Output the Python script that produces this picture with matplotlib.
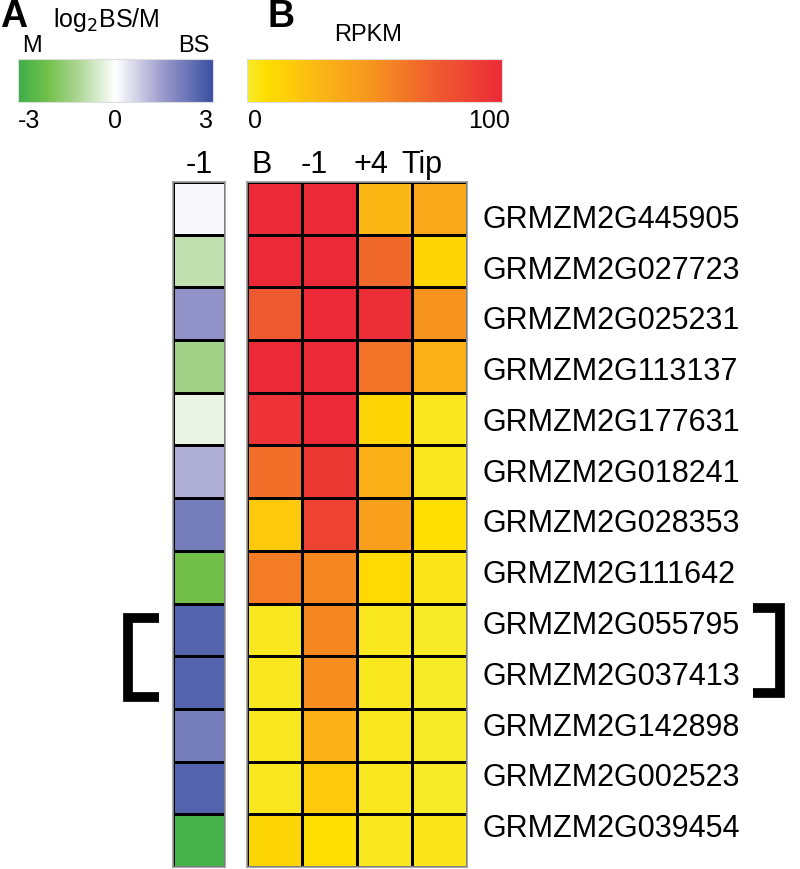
import numpy as np
import matplotlib
matplotlib.use("Agg")
import matplotlib.pyplot as plt
from matplotlib.colors import LinearSegmentedColormap, Normalize
from matplotlib.cm import ScalarMappable
from matplotlib.lines import Line2D

plt.rcParams['font.family'] = ['Liberation Sans', 'DejaVu Sans']

genes = ["GRMZM2G445905", "GRMZM2G027723", "GRMZM2G025231", "GRMZM2G113137",
         "GRMZM2G177631", "GRMZM2G018241", "GRMZM2G028353", "GRMZM2G111642",
         "GRMZM2G055795", "GRMZM2G037413", "GRMZM2G142898", "GRMZM2G002523",
         "GRMZM2G039454"]
ratio_labels = ["-1"]
rpkm_labels = ["B", "-1", "+4", "Tip"]

# log2 BS/M at section -1
log2_bs_m = [0.1, -0.85, 1.6, -1.3, -0.3, 1.15, 2.05, -2.1, 2.6, 2.6, 2.05, 2.6, -2.85]

# RPKM for B, -1, +4, Tip
rpkm_b = [100, 100, 75, 100, 95, 66, 18, 60, 2, 2, 2, 2, 12]
rpkm_m1 = [100, 100, 100, 100, 100, 92, 87, 55, 55, 52, 32, 18, 7]
rpkm_p4 = [28, 68, 98, 64, 12, 33, 42, 10, 2, 2, 2, 2, 2]
rpkm_tip = [37, 12, 50, 32, 2, 2, 7, 3, 1, 1, 1, 1, 3]

W, H = 800, 869
fig = plt.figure(figsize=(W / 100, H / 100), dpi=100)


def box(x0, y0, x1, y1):
    # pixel box (top-left origin) -> figure fraction
    return [x0 / W, 1 - y1 / H, (x1 - x0) / W, (y1 - y0) / H]


cmap_ratio = LinearSegmentedColormap.from_list(
    "ratio", [(0.0, "#3DAE49"), (0.15, "#72C04A"), (0.3, "#A8D48F"), (0.5, "#FFFFFF"),
              (0.75, "#9897CA"), (1.0, "#3A50A2")])
cmap_rpkm = LinearSegmentedColormap.from_list(
    "rpkm", [(0.0, "#F6EB2C"), (0.07, "#FFDE00"), (0.3, "#FBB416"),
             (0.5, "#F6921E"), (0.75, "#EF5A2F"), (1.0, "#EC2A37")])
norm_ratio = Normalize(-3, 3)
norm_rpkm = Normalize(0, 100)

# left heatmap
ax1 = fig.add_axes(box(173, 182, 225, 867))
ratio = np.array(log2_bs_m)[:, None]
ax1.pcolormesh(ratio, cmap=cmap_ratio, norm=norm_ratio, edgecolors="black", linewidth=1.8)
ax1.set_ylim(len(genes), 0)
ax1.set_xticks([])
ax1.set_yticks([])
for s in ax1.spines.values():
    s.set_color("#999999")
    s.set_linewidth(1.2)

# right heatmap
ax2 = fig.add_axes(box(247, 182, 467, 867))
rpkm = np.column_stack([rpkm_b, rpkm_m1, rpkm_p4, rpkm_tip])
ax2.pcolormesh(rpkm, cmap=cmap_rpkm, norm=norm_rpkm, edgecolors="black", linewidth=1.8)
ax2.set_ylim(len(genes), 0)
ax2.set_xticks([])
ax2.set_yticks([])
for s in ax2.spines.values():
    s.set_color("#999999")
    s.set_linewidth(1.2)

# gene labels (slightly tighter spacing than the rows, as in the original)
label_y = np.linspace(220, 829, len(genes))
for g, y in zip(genes, label_y):
    fig.text(482 / W, 1 - y / H, g, fontsize=22, ha="left", va="center")

# column labels
fig.text(199 / W, 1 - 165 / H, ratio_labels[0], fontsize=22, ha="center", va="center")
for lab, x in zip(rpkm_labels, [262, 314, 371, 422]):
    fig.text(x / W, 1 - 165 / H, lab, fontsize=22, ha="center", va="center")

# colour bars
cax1 = fig.add_axes(box(18, 59, 213, 102))
cb1 = fig.colorbar(ScalarMappable(norm=norm_ratio, cmap=cmap_ratio), cax=cax1, orientation="horizontal")
cax2 = fig.add_axes(box(247, 59, 502, 102))
cb2 = fig.colorbar(ScalarMappable(norm=norm_rpkm, cmap=cmap_rpkm), cax=cax2, orientation="horizontal")
for cb in (cb1, cb2):
    cb.set_ticks([])
    cb.outline.set_edgecolor("#dddddd")
    cb.outline.set_linewidth(0.8)

fig.text(18 / W, 1 - 121 / H, "-3", fontsize=18, ha="left", va="center")
fig.text(115 / W, 1 - 121 / H, "0", fontsize=18, ha="center", va="center")
fig.text(213 / W, 1 - 121 / H, "3", fontsize=18, ha="right", va="center")
fig.text(248 / W, 1 - 121 / H, "0", fontsize=18, ha="left", va="center")
fig.text(510 / W, 1 - 121 / H, "100", fontsize=18, ha="right", va="center")

fig.text(0 / W, 1 - 17 / H, "A", fontsize=27, fontweight="bold", ha="left", va="center")
fig.text(268 / W, 1 - 17 / H, "B", fontsize=27, fontweight="bold", ha="left", va="center")
fig.text(53 / W, 1 - 20 / H, r"log$_2$BS/M", fontsize=18, ha="left", va="center")
fig.text(22 / W, 1 - 46 / H, "M", fontsize=17, ha="left", va="center")
fig.text(210 / W, 1 - 46 / H, "BS", fontsize=17, ha="right", va="center")
fig.text(368 / W, 1 - 35 / H, "RPKM", fontsize=17, ha="center", va="center")

# brackets
def bracket(xs, ys):
    fig.add_artist(Line2D([x / W for x in xs], [1 - y / H for y in ys],
                          color="black", linewidth=7, solid_joinstyle="miter",
                          solid_capstyle="butt"))


bracket([159, 128, 128, 159], [618, 618, 697, 697])
bracket([753, 780, 780, 753], [608, 608, 693, 693])

fig.savefig("out.png", dpi=100)
